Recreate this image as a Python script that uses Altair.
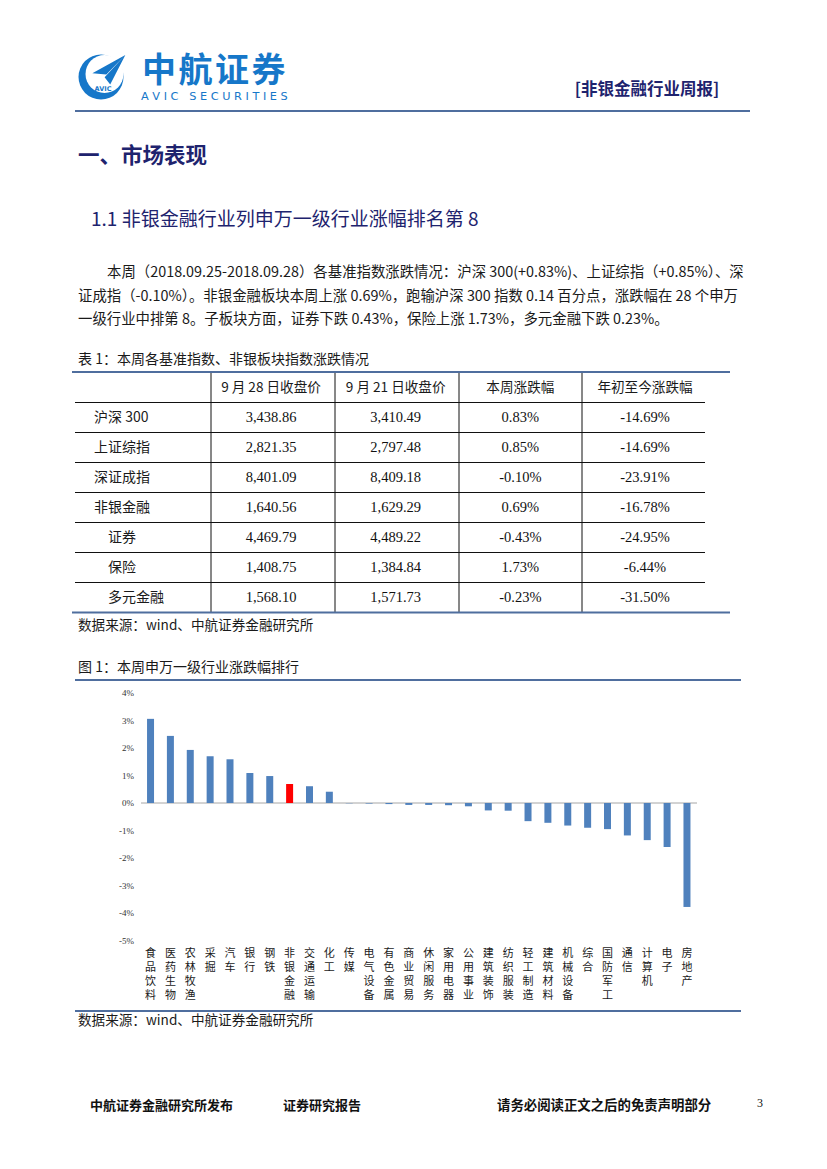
import altair as alt
import pandas as pd

# ---------------- data ----------------
industries = ["食品饮料", "医药生物", "农林牧渔", "采掘", "汽车", "银行", "钢铁", "非银金融",
              "交通运输", "化工", "传媒", "电气设备", "有色金属", "商业贸易", "休闲服务", "家用电器",
              "公用事业", "建筑装饰", "纺织服装", "轻工制造", "建筑材料", "机械设备", "综合",
              "国防军工", "通信", "计算机", "电子", "房地产"]
weekly_change = [3.06, 2.44, 1.93, 1.70, 1.59, 1.09, 0.98, 0.69,
                 0.61, 0.41, -0.01, -0.02, -0.04, -0.07, -0.07, -0.08,
                 -0.12, -0.27, -0.28, -0.66, -0.72, -0.82, -0.90,
                 -0.95, -1.18, -1.35, -1.60, -3.78]
highlight_industry = "非银金融"
y_ticks = [4, 3, 2, 1, 0, -1, -2, -3, -4, -5]

table_rows = ["沪深 300", "上证综指", "深证成指", "非银金融", "证券", "保险", "多元金融"]
sub_rows = ["证券", "保险", "多元金融"]
table_cols = ["9 月 28 日收盘价", "9 月 21 日收盘价", "本周涨跌幅", "年初至今涨跌幅"]
close_0928 = [3438.86, 2821.35, 8401.09, 1640.56, 4469.79, 1408.75, 1568.10]
close_0921 = [3410.49, 2797.48, 8409.18, 1629.29, 4489.22, 1384.84, 1571.73]
week_pct = [0.83, 0.85, -0.10, 0.69, -0.43, 1.73, -0.23]
ytd_pct = [-14.69, -14.69, -23.91, -16.78, -24.95, -6.44, -31.50]

para_lines = [
    "本周（2018.09.25-2018.09.28）各基准指数涨跌情况：沪深 300(+0.83%)、上证综指（+0.85%）、深",
    "证成指（-0.10%）。非银金融板块本周上涨 0.69%，跑输沪深 300 指数 0.14 百分点，涨跌幅在 28 个申万",
    "一级行业中排第 8。子板块方面，证券下跌 0.43%，保险上涨 1.73%，多元金融下跌 0.23%。",
]

# ---------------- helpers ----------------
CJK = "Noto Sans CJK SC"
SERIF = "Liberation Serif"
BLUE = "#1677C9"
NAVY = "#1E236E"
LINE = "#4F6E9E"
W = 811
TOPS = [8, 640, 1040, 1161]   # page y of the three stacked panels
PLANE = ("M1.02,-0.88 L-0.92,0.19 L-0.1,0.27 Z "
         "M1.02,-0.88 L-0.2,0.42 L0.13,0.86 Z")


def one(**kv):
    return pd.DataFrame([kv if kv else {"z": 0}])


def mk(panel):
    top = TOPS[panel]

    def px(v):
        return v - 8

    def py(v):
        return v - top

    def T(s, x, y, size=12, weight="normal", color="#222222", align="left",
          baseline="middle", font=CJK, **kw):
        return alt.Chart(one(s=s)).mark_text(
            fontSize=size, fontWeight=weight, color=color, align=align,
            baseline=baseline, font=font, **kw
        ).encode(x=alt.value(px(x)), y=alt.value(py(y)), text="s:N")

    def H(x1, x2, y, color="#000000", w=1.0):
        return alt.Chart(one()).mark_rule(color=color, strokeWidth=w).encode(
            x=alt.value(px(x1)), x2=alt.value(px(x2)), y=alt.value(py(y)))

    def V(x, y1, y2, color="#000000", w=1.0):
        return alt.Chart(one()).mark_rule(color=color, strokeWidth=w).encode(
            x=alt.value(px(x)), y=alt.value(py(y1)), y2=alt.value(py(y2)))

    return px, py, T, H, V


# ======================= panel 1: header, text, table =======================
px, py, T, H, V = mk(0)
p1 = []
# logo: crescent ring + paper plane
p1.append(alt.Chart(one()).mark_circle(size=(2 * 22.5) ** 2, color=BLUE, opacity=1).encode(
    x=alt.value(px(101)), y=alt.value(py(77))))
p1.append(alt.Chart(one()).mark_circle(size=(2 * 19) ** 2, color="white", opacity=1).encode(
    x=alt.value(px(104.5)), y=alt.value(py(74))))
p1.append(alt.Chart(one()).mark_point(shape=PLANE, size=34 ** 2, filled=True, color=BLUE,
                                      opacity=1).encode(
    x=alt.value(px(108)), y=alt.value(py(70))))
p1.append(T("AVIC", 103, 89, size=6.5, weight="bold", color=BLUE, align="center",
            font="DejaVu Sans"))
for i, ch in enumerate("中航证券"):
    p1.append(T(ch, 159 + i * 36.5, 72, size=34, weight="bold", color=BLUE, align="center"))
p1.append(T("A V I C\u00a0\u00a0 S E C U R I T I E S", 141, 97, size=11.3, color=BLUE,
            font="DejaVu Sans"))
p1.append(T("[非银金融行业周报]", 647, 90, size=16.5, weight="bold", color=NAVY, align="center"))
p1.append(H(75, 750, 111, LINE, 2))

p1.append(T("一、市场表现", 78, 157, size=21.5, weight="bold", color=NAVY))
p1.append(T("1.1 非银金融行业列申万一级行业涨幅排名第 8", 91, 220, size=19, color=NAVY))
for s, xx, yy in zip(para_lines, [107, 78, 78], [273, 297, 320]):
    p1.append(T(s, xx, yy, size=14.4, color="#1a1a1a"))

p1.append(T("表 1：本周各基准指数、非银板块指数涨跌情况", 78, 360, size=14, color="#1a1a1a"))

# table grid (layout lines)
ROW0, ROWSTEP = 387.5, 30.0
for i in range(len(table_rows)):
    p1.append(H(75, 705, ROW0 + ROWSTEP * (i + 0.5), "#111111", 1))
for xx in [211, 335, 459, 582]:
    p1.append(V(xx, 373, 612, "#111111", 1))
p1.append(H(72, 730, 372, LINE, 2.2))
p1.append(H(72, 730, 612.5, LINE, 2.2))

row_scale = alt.Scale(type="point", domain=["header"] + table_rows,
                      range=[py(ROW0), py(ROW0 + ROWSTEP * 7)], padding=0)
col_scale = alt.Scale(type="point", domain=table_cols, range=[px(271), px(645)], padding=0)

cells = []
for i, r in enumerate(table_rows):
    cells.append({"row": r, "col": table_cols[0], "text": f"{close_0928[i]:,.2f}"})
    cells.append({"row": r, "col": table_cols[1], "text": f"{close_0921[i]:,.2f}"})
    cells.append({"row": r, "col": table_cols[2], "text": f"{week_pct[i]:.2f}%"})
    cells.append({"row": r, "col": table_cols[3], "text": f"{ytd_pct[i]:.2f}%"})
cells_df = pd.DataFrame(cells)
header_df = pd.DataFrame({"row": ["header"] * len(table_cols), "col": table_cols, "text": table_cols})
main_df = pd.DataFrame({"row": [r for r in table_rows if r not in sub_rows]})
sub_df = pd.DataFrame({"row": [r for r in table_rows if r in sub_rows]})

ty = alt.Y("row:N", scale=row_scale, axis=None)
tx = alt.X("col:N", scale=col_scale, axis=None)

p1.append(alt.Chart(header_df).mark_text(font=CJK, fontSize=13.6, color="#1a1a1a",
                                         baseline="middle").encode(x=tx, y=ty, text="text:N"))
p1.append(alt.Chart(cells_df).mark_text(font=SERIF, fontSize=14.5, color="#111111",
                                        baseline="middle").encode(x=tx, y=ty, text="text:N"))
p1.append(alt.Chart(main_df).mark_text(
    font=CJK, fontSize=14, color="#1a1a1a", align="left", baseline="middle").encode(
    x=alt.value(px(94)), y=ty, text="row:N"))
p1.append(alt.Chart(sub_df).mark_text(
    font=CJK, fontSize=14, color="#1a1a1a", align="left", baseline="middle").encode(
    x=alt.value(px(108)), y=ty, text="row:N"))
p1.append(T("数据来源：wind、中航证券金融研究所", 78, 626, size=13.6, color="#1a1a1a"))

panel1 = alt.layer(*p1).properties(width=W, height=TOPS[1] - TOPS[0])

# ======================= panel 2: bar chart =======================
px, py, T, H, V = mk(1)
p2 = []
p2.append(T("图 1：本周申万一级行业涨跌幅排行", 78, 668, size=14, color="#1a1a1a"))
p2.append(H(75, 741, 680, LINE, 2))

bar_df = pd.DataFrame({"industry": industries, "change": weekly_change})
bar_df["base"] = 0.0
bar_df["group"] = ["highlight" if n == highlight_industry else "other" for n in industries]
bar_df["stacked"] = ["\n".join(list(n)) for n in industries]
tick_df = pd.DataFrame({"tick": y_ticks, "label": [f"{t}%" for t in y_ticks]})

x_scale = alt.Scale(domain=industries, range=[px(140.6), px(696.9)], paddingInner=0, paddingOuter=0)
y_scale = alt.Scale(domain=[-5, 4], range=[py(940.5), py(693)], nice=False, zero=False)
bx = alt.X("industry:N", scale=x_scale, axis=None, sort=industries)

p2.append(alt.Chart(one(z=0.0)).mark_rule(color="#A6A6A6", strokeWidth=1).encode(
    y=alt.Y("z:Q", scale=y_scale, axis=None), x=alt.value(px(141)), x2=alt.value(px(697))))
p2.append(alt.Chart(bar_df).mark_bar(size=7).encode(
    x=bx,
    y=alt.Y("change:Q", scale=y_scale, axis=None),
    y2="base:Q",
    color=alt.Color("group:N", scale=alt.Scale(domain=["other", "highlight"],
                                               range=["#4F81BD", "#FF0000"]), legend=None),
))
p2.append(alt.Chart(tick_df).mark_text(font=SERIF, fontSize=9, color="#333333",
                                       align="right", baseline="middle").encode(
    y=alt.Y("tick:Q", scale=y_scale, axis=None), x=alt.value(px(134)), text="label:N"))
p2.append(alt.Chart(bar_df).mark_text(font=CJK, fontSize=11, color="#1a1a1a", align="center",
                                      baseline="top", lineBreak="\n", lineHeight=14).encode(
    x=bx, y=alt.value(py(948)), text="stacked:N"))
p2.append(H(75, 741, 1011, LINE, 2))
p2.append(T("数据来源：wind、中航证券金融研究所", 78, 1021, size=13.6, color="#1a1a1a"))

panel2 = alt.layer(*p2).properties(width=W, height=TOPS[2] - TOPS[1])

# ======================= panel 3: footer =======================
px, py, T, H, V = mk(2)
p3 = [
    T("中航证券金融研究所发布", 90, 1106, size=13, weight="bold", color="#111111"),
    T("证券研究报告", 283, 1106, size=13, weight="bold", color="#111111"),
    T("请务必阅读正文之后的免责声明部分", 497, 1106, size=13.4, weight="bold", color="#111111"),
    T("3", 757, 1103, size=12, color="#111111", font=SERIF),
]
panel3 = alt.layer(*p3).properties(width=W, height=TOPS[3] - TOPS[2])

chart = alt.vconcat(panel1, panel2, panel3, spacing=0, bounds="flush").properties(
    padding=0, background="white"
).configure_view(stroke=None)

chart.save("out.html", embed_options={"renderer": "svg", "actions": False})
